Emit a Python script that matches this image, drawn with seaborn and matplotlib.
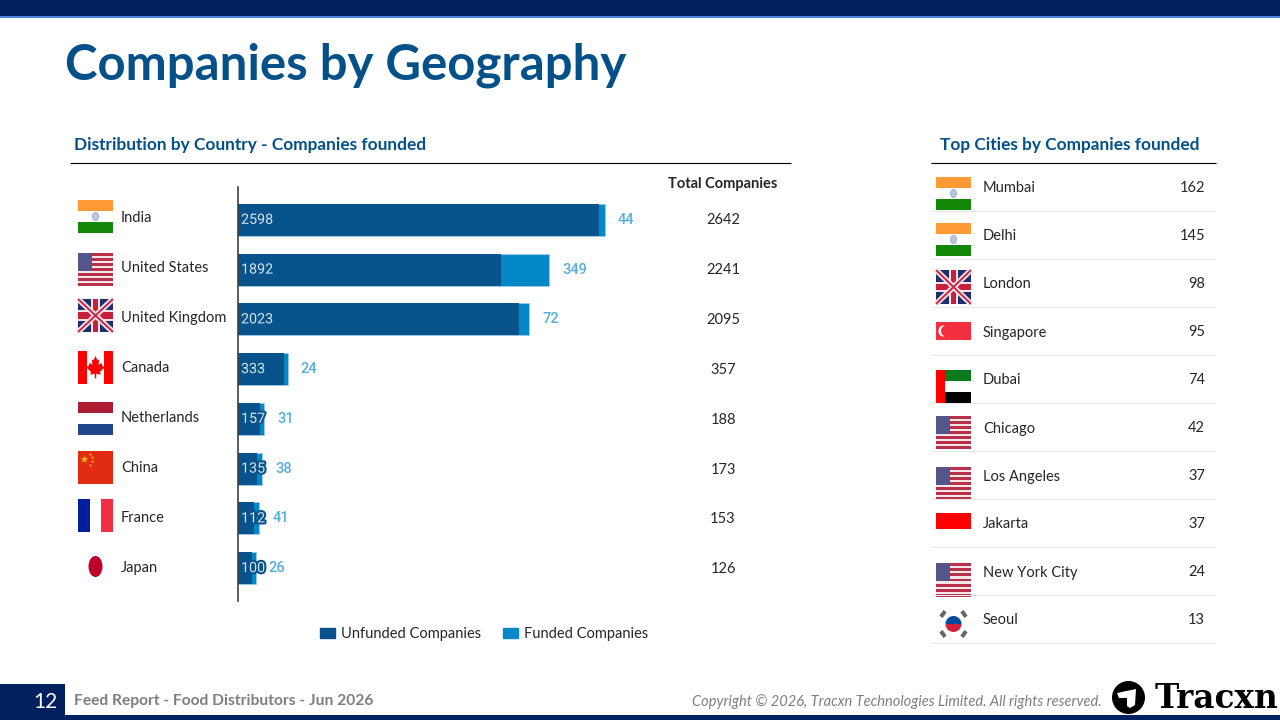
import matplotlib
matplotlib.use("Agg")
import matplotlib.pyplot as plt
import matplotlib.patheffects as pe
from matplotlib.patches import Circle, Ellipse, Patch, Polygon, Rectangle, Wedge
import pandas as pd
import seaborn as sns

countries = ["India", "United States", "United Kingdom", "Canada", "Netherlands", "China", "France", "Japan"]
unfunded = [2598, 1892, 2023, 333, 157, 135, 112, 100]
funded = [44, 349, 72, 24, 31, 38, 41, 26]
totals = [2642, 2241, 2095, 357, 188, 173, 153, 126]

cities = ["Mumbai", "Delhi", "London", "Singapore", "Dubai", "Chicago", "Los Angeles", "Jakarta", "New York City", "Seoul"]
city_counts = [162, 145, 98, 95, 74, 42, 37, 37, 24, 13]
city_flags = ["in", "in", "gb", "sg", "ae", "us", "us", "id", "us", "kr"]
country_flags = ["in", "us", "gb", "ca", "nl", "cn", "fr", "jp"]

NAVY = "#002060"
BLUE = "#045088"
UNFUNDED = "#08538c"
FUNDED = "#0288c9"
TEXT = "#262626"

sns.set_theme(style="white")
plt.rcParams["font.family"] = ["Lato", "DejaVu Sans"]

fig = plt.figure(figsize=(12.8, 7.2), dpi=100)

# whole slide in pixels, everything that is not a bar goes here
page = fig.add_axes([0, 0, 1, 1])
page.set_xlim(0, 1280)
page.set_ylim(720, 0)
page.axis("off")


def rect(x, y, w, h, color, **kw):
    page.add_patch(Rectangle((x, y), w, h, facecolor=color, edgecolor="none", **kw))


def line(x0, y0, x1, y1, color, lw):
    page.plot([x0, x1], [y0, y1], color=color, lw=lw, solid_capstyle="butt")


def flag_in(x, y, w, h):
    rect(x, y, w, h / 3, "#ff9933")
    rect(x, y + 2 * h / 3, w, h / 3, "#138808")
    page.add_patch(Ellipse((x + w / 2, y + h / 2), 6, 8, fc="#b6c8e0", ec="#8aa2c8", lw=0.5))


def flag_us(x, y, w, h):
    for i in range(13):
        rect(x, y + i * h / 13, w, h / 13, "#b8304a" if i % 2 == 0 else "#f4e6e8")
    rect(x, y, w * 0.4, h * 7 / 13, "#54558a")


def flag_gb(x, y, w, h):
    rect(x, y, w, h, "#1f2f6e")
    line(x, y, x + w, y + h, "#f2e4e6", 4)
    line(x, y + h, x + w, y, "#f2e4e6", 4)
    line(x, y, x + w, y + h, "#c8284a", 1.4)
    line(x, y + h, x + w, y, "#c8284a", 1.4)
    rect(x + w * 0.38, y, w * 0.24, h, "#f2e4e6")
    rect(x, y + h * 0.34, w, h * 0.32, "#f2e4e6")
    rect(x + w * 0.44, y, w * 0.12, h, "#c8203c")
    rect(x, y + h * 0.4, w, h * 0.2, "#c8203c")


def flag_ca(x, y, w, h):
    rect(x, y, w * 0.25, h, "#ff0000")
    rect(x + w * 0.75, y, w * 0.25, h, "#ff0000")
    cx, cy = x + w / 2, y + h / 2
    leaf = [(0, -13), (2.5, -8), (5, -9), (4, -3), (8, -5), (9, -2), (12, 0), (6, 5), (7, 8), (1, 7),
            (1, 12), (-1, 12), (-1, 7), (-7, 8), (-6, 5), (-12, 0), (-9, -2), (-8, -5), (-4, -3), (-5, -9), (-2.5, -8)]
    page.add_patch(Polygon([(cx + a * 0.75, cy + b * 0.9) for a, b in leaf], fc="#ff0000", ec="none"))


def flag_nl(x, y, w, h):
    rect(x, y, w, h / 3, "#ae1c34")
    rect(x, y + 2 * h / 3, w, h / 3, "#21468b")


def flag_cn(x, y, w, h):
    rect(x, y, w, h, "#e12b12")
    page.scatter([x + 6], [y + 8], marker="*", s=38, color="#ffb01f", lw=0)
    page.scatter([x + 12, x + 14, x + 14, x + 12], [y + 3, y + 6, y + 10, y + 14], marker="*", s=7, color="#ffb01f", lw=0)


def flag_fr(x, y, w, h):
    rect(x, y, w / 3, h, "#001f99")
    rect(x + 2 * w / 3, y, w / 3, h, "#f12f42")


def flag_jp(x, y, w, h):
    page.add_patch(Ellipse((x + w / 2, y + h / 2), 14, 21, fc="#bc0029", ec="none"))


def flag_sg(x, y, w, h):
    rect(x, y, w, h, "#f12f3f")
    page.add_patch(Ellipse((x + 7, y + h / 2), 9, 11, fc="#ffffff", ec="none"))
    page.add_patch(Ellipse((x + 9, y + h / 2), 8, 10, fc="#f12f3f", ec="none"))


def flag_ae(x, y, w, h):
    rect(x, y, w * 0.26, h, "#ff0000")
    rect(x + w * 0.26, y, w * 0.74, h / 3, "#0a7a1c")
    rect(x + w * 0.26, y + 2 * h / 3, w * 0.74, h / 3, "#000000")


def flag_id(x, y, w, h):
    rect(x, y, w, h, "#ff0000")


def flag_kr(x, y, w, h):
    cx, cy = x + w / 2, y + h / 2
    page.add_patch(Wedge((cx, cy), 8, 180, 360, fc="#004a9f", ec="none"))
    page.add_patch(Wedge((cx, cy), 8, 0, 180, fc="#cf2340", ec="none"))
    for sx, sy in [(-1, -1), (1, -1), (-1, 1), (1, 1)]:
        page.add_patch(Rectangle((cx + sx * 10.5 - 2, cy + sy * 10 - 3.5), 4, 7, angle=35 * sx * sy,
                                 rotation_point="center", fc="#666666", ec="none"))


flag_draw = {"in": flag_in, "us": flag_us, "gb": flag_gb, "ca": flag_ca, "nl": flag_nl, "cn": flag_cn,
             "fr": flag_fr, "jp": flag_jp, "sg": flag_sg, "ae": flag_ae, "id": flag_id, "kr": flag_kr}

# slide furniture
rect(0, 0, 1280, 16, NAVY)
rect(0, 16, 1280, 1.5, "#4f86e0")
rect(0, 714.5, 1280, 5.5, NAVY)
rect(0, 684, 65, 36, NAVY)
page.text(65, 65, "Companies by Geography", color=BLUE, fontsize=35.4, fontweight="bold", va="center")

page.text(74, 145, "Distribution by Country - Companies founded", color=BLUE, fontsize=12.45, fontweight="bold", va="center")
line(70, 162.5, 791, 162.5, "black", 0.8)
page.text(723, 184, "Total Companies", color=TEXT, fontsize=10.5, fontweight="bold", ha="center", va="center")

page.text(940, 145, "Top Cities by Companies founded", color=BLUE, fontsize=12.45, fontweight="bold", va="center")
line(931, 162.5, 1216, 162.5, "black", 0.8)

page.text(45, 702, "12", color="white", fontsize=15, ha="center", va="center")
page.text(74, 701, "Feed Report - Food Distributors - Jun 2026", color="#7f7f7f", fontsize=11.25, fontweight="bold", va="center")
page.text(1102, 702, "Copyright © 2026, Tracxn Technologies Limited. All rights reserved.", color="#7f7f7f",
          fontsize=10.55, style="italic", ha="right", va="center")

# logo
page.add_patch(Circle((1128.5, 697.5), 16.5, fc="black", ec="none"))
page.add_patch(Polygon([(1117, 693), (1136, 689), (1135, 705), (1130, 708), (1127, 706), (1127, 698), (1119, 698)],
                       fc="white", ec="none"))
page.text(1278, 698, "Tracxn", color="black", fontsize=23.6, fontweight="bold", family="DejaVu Serif", ha="right", va="center")

# stacked bars: total behind, unfunded on top
df = pd.DataFrame({"country": countries, "unfunded": unfunded, "funded": funded, "total": totals})
ax = fig.add_axes([238 / 1280, 1 - 601 / 720, (791 - 238) / 1280, (601 - 187) / 720])
ax.patch.set_alpha(0)
sns.barplot(data=df, x="total", y="country", color=FUNDED, saturation=1, width=0.64, ax=ax, edgecolor="#a8c8de", linewidth=0.5)
sns.barplot(data=df, x="unfunded", y="country", color=UNFUNDED, saturation=1, width=0.64, ax=ax, edgecolor="none")
ax.set_xlim(0, 3980)
ax.set_ylim(7.66, -0.66)
ax.set_xlabel("")
ax.set_ylabel("")
ax.set_xticks([])
ax.set_yticks([])
sns.despine(ax=ax, left=False, bottom=True)
ax.spines["left"].set_color("#404040")
ax.spines["left"].set_linewidth(1.2)

halo = [pe.withStroke(linewidth=3, foreground=UNFUNDED)]
for i in range(len(countries)):
    ax.annotate(str(unfunded[i]), xy=(0, i), xytext=(3, 0), textcoords="offset pixels", color="#d5e3ee",
                fontsize=10.3, family="Roboto", ha="left", va="center", path_effects=halo)
    ax.annotate(str(funded[i]), xy=(totals[i], i), xytext=(13, 0), textcoords="offset pixels", color="#55aede",
                fontsize=10.5, family="Roboto", fontweight="medium", ha="left", va="center")
    page.text(723, 220 + i * 49.9, str(totals[i]), color=TEXT, fontsize=10.5, ha="center", va="center")
    page.text(121, 218 + i * 50.05, countries[i], color=TEXT, fontsize=10.5, va="center")

left_flags_y = [200, 253, 299, 351, 402, 451, 499, 550]
for code, y in zip(country_flags, left_flags_y):
    flag_draw[code](78, y, 35, 33)

right_flags = [(177, 33), (223, 33), (270, 34), (322, 18), (370, 33), (416, 33), (467, 33), (513, 16), (563, 34), (607, 34)]
for i, (city, n) in enumerate(zip(cities, city_counts)):
    y = 188.5 + i * 48
    page.text(983, y, city, color=TEXT, fontsize=10.5, va="center")
    page.text(1205, y, str(n), color=TEXT, fontsize=10.5, ha="right", va="center")
    line(931, y + 22, 1216, y + 22, "#e6e6e6", 0.8)
    flag_draw[city_flags[i]](936, right_flags[i][0], 35, right_flags[i][1])

fig.legend(handles=[Patch(color=UNFUNDED, label="Unfunded Companies"), Patch(color=FUNDED, label="Funded Companies")],
           loc="center", bbox_to_anchor=(484 / 1280, 1 - 634 / 720), ncols=2, frameon=False, fontsize=10.5,
           labelcolor=TEXT, handlelength=1.06, handleheight=0.65, handletextpad=0.4, columnspacing=1.5)

fig.savefig("out.png", dpi=100)
